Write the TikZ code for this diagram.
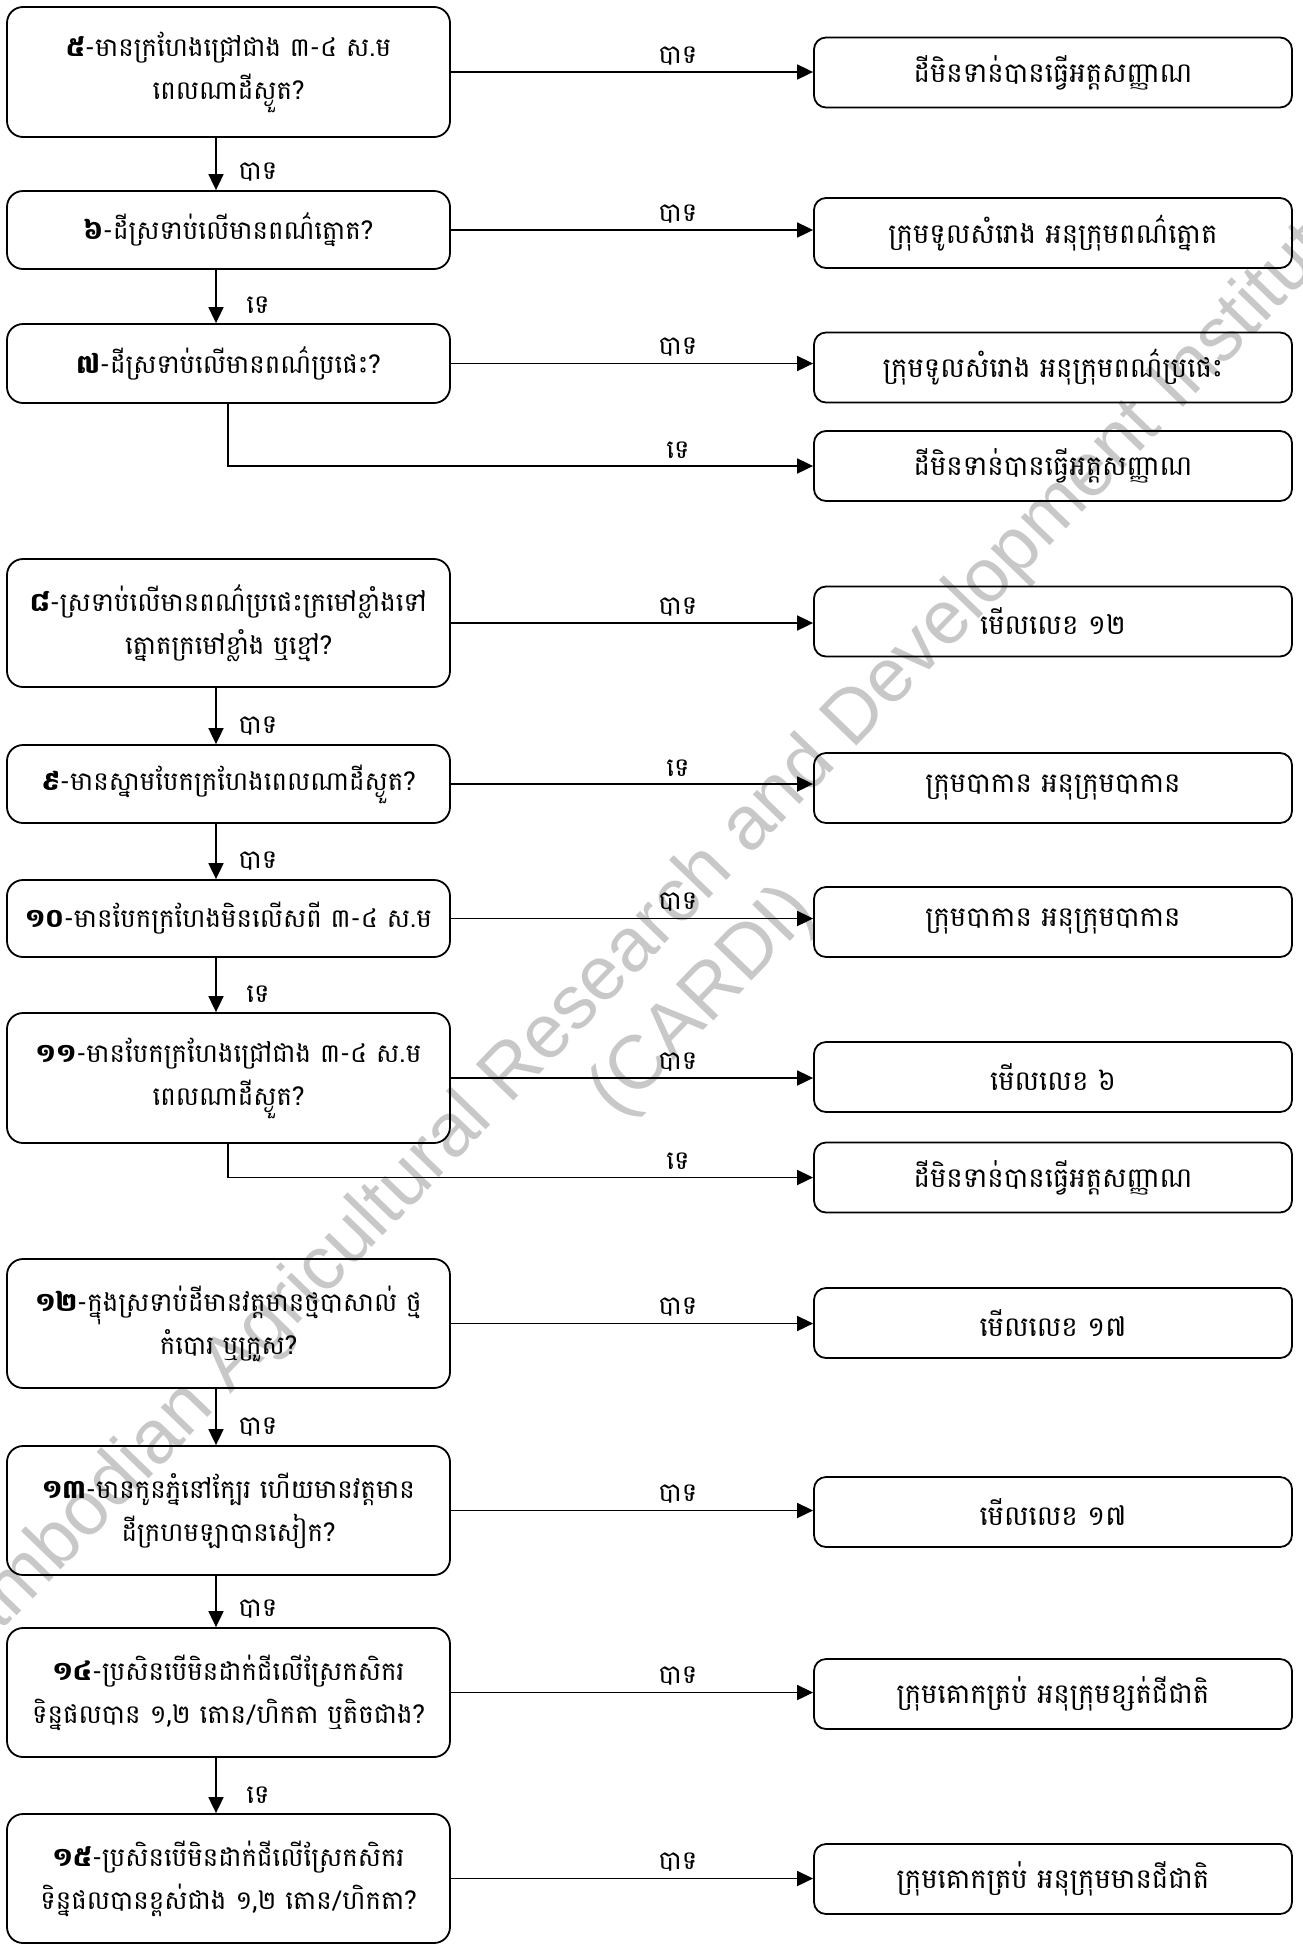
\documentclass[tikz,border=0pt]{standalone}
\usepackage{fontspec}
\newfontfamily\kh[Script=Khmer]{Battambang}
\newfontfamily\wmfont{Liberation Sans}
\usetikzlibrary{arrows.meta,calc}
\definecolor{wmgray}{RGB}{200,200,200}
\begin{document}
\begin{tikzpicture}[x=1pt,y=-1pt,
  qbox/.style={draw, line width=1.8pt, rounded corners=16pt, minimum width=443pt, inner sep=0pt, align=center, font=\kh\fontsize{26}{43}\selectfont},
  abox/.style={draw, line width=1.8pt, rounded corners=12pt, minimum width=478pt, minimum height=70pt, inner sep=0pt, align=center, font=\kh\fontsize{27.5}{30}\selectfont},
  arr/.style={line width=1.8pt, -{Triangle[length=16pt,width=15pt]}},
  lbl/.style={font=\kh\fontsize{26}{28}\selectfont, inner sep=0pt},
  wm/.style={rotate=46, text=wmgray, font=\wmfont\fontsize{76}{88}\selectfont, align=center}
]
\useasboundingbox (0,0) rectangle (1303,1944);
\begin{scope}
\clip (0,0) rectangle (1303,1944);
\node[wm] (wmark) at (672,972) {Cambodian Agricultural Research and Development Institute\\(CARDI)};
\end{scope}
\coordinate (vx) at (216,0);
\coordinate (bx) at (228,0);
% question boxes
\node[qbox, minimum height=130pt] (L5) at (228.5,72) {{\bfseries ៥}-មានក្រហែងជ្រៅជាង ៣-៤ ស.ម\\ពេលណាដីស្ងួត?};
\node[qbox, minimum height=78pt] (L6) at (228.5,230) {{\bfseries ៦}-ដីស្រទាប់លើមានពណ៌ត្នោត?};
\node[qbox, minimum height=79pt] (L7) at (228.5,363.5) {{\bfseries ៧}-ដីស្រទាប់លើមានពណ៌ប្រផេះ?};
\node[qbox, minimum height=128pt] (L8) at (228.5,623) {{\bfseries ៨}-ស្រទាប់លើមានពណ៌ប្រផេះក្រមៅខ្លាំងទៅ\\ត្នោតក្រមៅខ្លាំង ឬខ្មៅ?};
\node[qbox, minimum height=78pt] (L9) at (228.5,784) {{\bfseries ៩}-មានស្នាមបែកក្រហែងពេលណាដីស្ងួត?};
\node[qbox, minimum height=77pt] (L10) at (228.5,918.5) {{\bfseries ១០}-មានបែកក្រហែងមិនលើសពី ៣-៤ ស.ម};
\node[qbox, minimum height=130pt] (L11) at (228.5,1078) {{\bfseries ១១}-មានបែកក្រហែងជ្រៅជាង ៣-៤ ស.ម\\ពេលណាដីស្ងួត?};
\node[qbox, minimum height=129pt] (L12) at (228.5,1323.5) {{\bfseries ១២}-ក្នុងស្រទាប់ដីមានវត្តមានថ្មបាសាល់ ថ្ម\\កំបោរ ឬក្រួស?};
\node[qbox, minimum height=129pt] (L13) at (228.5,1510.5) {{\bfseries ១៣}-មានកូនភ្នំនៅក្បែរ ហើយមានវត្តមាន\\ដីក្រហមឡាបានសៀក?};
\node[qbox, minimum height=129pt] (L14) at (228.5,1692.5) {{\bfseries ១៤}-ប្រសិនបើមិនដាក់ជីលើស្រែកសិករ\\ទិន្នផលបាន ១,២ តោន/ហិកតា ឬតិចជាង?};
\node[qbox, minimum height=129pt] (L15) at (228.5,1878.5) {{\bfseries ១៥}-ប្រសិនបើមិនដាក់ជីលើស្រែកសិករ\\ទិន្នផលបានខ្ពស់ជាង ១,២ តោន/ហិកតា?};
% answer boxes
\node[abox] (R1) at (1053,72.5) {ដីមិនទាន់បានធ្វើអត្តសញ្ញាណ};
\node[abox] (R2) at (1053,233) {ក្រុមទូលសំរោង អនុក្រុមពណ៌ត្នោត};
\node[abox] (R3) at (1053,367.5) {ក្រុមទូលសំរោង អនុក្រុមពណ៌ប្រផេះ};
\node[abox] (R4) at (1053,466) {ដីមិនទាន់បានធ្វើអត្តសញ្ញាណ};
\node[abox] (R5) at (1053,621.5) {មើលលេខ ១២};
\node[abox] (R6) at (1053,788) {ក្រុមបាកាន អនុក្រុមបាកាន};
\node[abox] (R7) at (1053,922) {ក្រុមបាកាន អនុក្រុមបាកាន};
\node[abox] (R8) at (1053,1077) {មើលលេខ ៦};
\node[abox] (R9) at (1053,1177.5) {ដីមិនទាន់បានធ្វើអត្តសញ្ញាណ};
\node[abox] (R10) at (1053,1323) {មើលលេខ ១៧};
\node[abox] (R11) at (1053,1512) {មើលលេខ ១៧};
\node[abox] (R12) at (1053,1694) {ក្រុមគោកត្រប់ អនុក្រុមខ្សត់ជីជាតិ};
\node[abox] (R13) at (1053,1879) {ក្រុមគោកត្រប់ អនុក្រុមមានជីជាតិ};
% horizontal arrows
\foreach \l/\r/\t in {L5/R1/បាទ, L6/R2/បាទ, L7/R3/បាទ, L8/R5/បាទ, L9/R6/ទេ, L10/R7/បាទ, L11/R8/បាទ, L12/R10/បាទ, L13/R11/បាទ, L14/R12/បាទ, L15/R13/បាទ}{
  \draw[arr] (\l.east) -- (\l.east -| \r.west);
  \node[lbl] at ($(\l.east -| \r.west)+(-135,-16)$) {\t};
}
% branch arrows
\draw[arr] (L7.south -| bx) |- (R4.west);
\node[lbl] at ($(R4.west)+(-135,-16)$) {ទេ};
\draw[arr] (L11.south -| bx) |- (R9.west);
\node[lbl] at ($(R9.west)+(-135,-16)$) {ទេ};
% vertical arrows
\foreach \a/\b/\t in {L5/L6/បាទ, L6/L7/ទេ, L8/L9/បាទ, L9/L10/បាទ, L10/L11/ទេ, L12/L13/បាទ, L13/L14/បាទ, L14/L15/ទេ}{
  \draw[arr] (\a.south -| vx) -- (\b.north -| vx);
  \node[lbl] at ($(\b.north -| vx)+(42,-18)$) {\t};
}
\end{tikzpicture}
\end{document}
